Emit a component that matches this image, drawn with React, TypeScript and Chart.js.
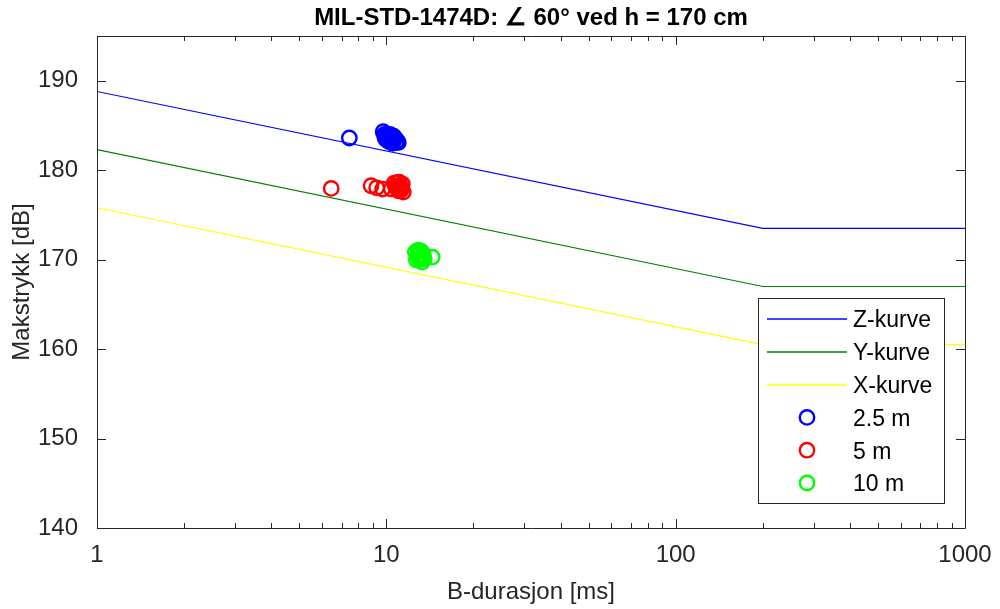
import { useEffect, useRef } from 'react';
import { Chart, registerables } from 'chart.js';

Chart.register(...registerables);

// Limit curves (MIL-STD-1474D), vertices at B-duration in ms
const CURVE_DURATION_MS = [1, 200, 1000];
const Z_CURVE_DB = [188.8, 173.5, 173.5];
const Y_CURVE_DB = [182.3, 167.0, 167.0];
const X_CURVE_DB = [175.8, 160.5, 160.5];

// Measured peaks, 2.5 m
const M25_DURATION_MS = [7.45, 9.75, 9.85, 10.0, 10.1, 10.3, 10.4, 10.6, 10.8, 11.0, 10.2, 9.9, 10.7, 10.0, 10.5, 10.3, 10.6, 10.9];
const M25_PEAK_DB = [183.6, 184.3, 184.0, 183.9, 183.6, 183.7, 183.4, 183.3, 183.1, 183.1, 183.2, 183.6, 183.6, 183.4, 183.0, 184.0, 183.8, 183.3];

// Measured peaks, 5 m
const M5_DURATION_MS = [6.45, 8.86, 9.26, 9.71, 10.66, 11.08, 11.36, 10.91, 11.26, 11.45, 10.74, 10.4, 10.9, 11.2, 11.0, 11.3];
const M5_PEAK_DB = [177.96, 178.26, 178.03, 177.89, 178.56, 178.67, 178.45, 178.0, 177.77, 177.55, 178.22, 177.9, 178.6, 178.2, 177.7, 178.0];

// Measured peaks, 10 m
const M10_DURATION_MS = [12.59, 12.89, 13.2, 13.42, 12.79, 13.1, 13.52, 12.69, 13.3, 14.41, 13.0, 12.9, 13.3, 13.0];
const M10_PEAK_DB = [170.84, 171.06, 170.95, 170.61, 170.39, 170.17, 170.06, 169.95, 169.72, 170.28, 170.6, 171.0, 170.2, 170.0];

const X_TICKS = [1, 10, 100, 1000];
const X_MINOR_TICKS = [2, 3, 4, 5, 6, 7, 8, 9, 20, 30, 40, 50, 60, 70, 80, 90, 200, 300, 400, 500, 600, 700, 800, 900];
const Y_TICKS = [140, 150, 160, 170, 180, 190];

const TITLE = 'MIL-STD-1474D: \u2220 60\u00b0 ved h = 170 cm';
const X_LABEL = 'B-durasjon [ms]';
const Y_LABEL = 'Makstrykk [dB]';

const AXIS_COLOR = '#262626';
const FONT_FAMILY = '"Liberation Sans", Arial, Helvetica, sans-serif';

const toPoints = (xs: number[], ys: number[]) => xs.map((x, i) => ({ x, y: ys[i] }));

// Box, inward ticks, title and legend, drawn the way MATLAB axes look
const framePlugin = {
  id: 'matlabFrame',
  afterDatasetsDraw(chart: any) {
    const { ctx, chartArea: a, scales } = chart;
    const xs = scales.x;
    const ys = scales.y;
    ctx.save();
    ctx.strokeStyle = AXIS_COLOR;
    ctx.lineWidth = 1;
    ctx.beginPath();
    ctx.rect(Math.round(a.left) + 0.5, Math.round(a.top) + 0.5, Math.round(a.right - a.left), Math.round(a.bottom - a.top));
    ctx.stroke();

    const major = 9;
    const minor = 5;
    ctx.beginPath();
    const xTick = (v: number, len: number) => {
      const px = Math.round(xs.getPixelForValue(v)) + 0.5;
      ctx.moveTo(px, a.bottom);
      ctx.lineTo(px, a.bottom - len);
      ctx.moveTo(px, a.top);
      ctx.lineTo(px, a.top + len);
    };
    X_TICKS.forEach((v) => xTick(v, major));
    X_MINOR_TICKS.forEach((v) => xTick(v, minor));
    Y_TICKS.forEach((v) => {
      const py = Math.round(ys.getPixelForValue(v)) + 0.5;
      ctx.moveTo(a.left, py);
      ctx.lineTo(a.left + major, py);
      ctx.moveTo(a.right, py);
      ctx.lineTo(a.right - major, py);
    });
    ctx.stroke();
    ctx.restore();
  },
  afterDraw(chart: any) {
    const { ctx, chartArea: a } = chart;
    ctx.save();
    // title
    ctx.fillStyle = '#000000';
    ctx.font = `bold 24px ${FONT_FAMILY}`;
    ctx.textAlign = 'center';
    ctx.textBaseline = 'middle';
    ctx.fillText(TITLE, (a.left + a.right) / 2, 18);

    // legend
    const box = { left: 758, top: 298, right: 944, bottom: 503 };
    ctx.fillStyle = '#ffffff';
    ctx.fillRect(box.left, box.top, box.right - box.left, box.bottom - box.top);
    ctx.strokeStyle = AXIS_COLOR;
    ctx.lineWidth = 1;
    ctx.strokeRect(box.left + 0.5, box.top + 0.5, box.right - box.left, box.bottom - box.top);

    const rowY0 = 319;
    const rowGap = 32.8;
    ctx.font = `23px ${FONT_FAMILY}`;
    ctx.textAlign = 'left';
    chart.data.datasets.forEach((ds: any, i: number) => {
      const y = rowY0 + i * rowGap;
      if (ds.showLine) {
        ctx.strokeStyle = ds.borderColor;
        ctx.lineWidth = 1.3;
        ctx.beginPath();
        ctx.moveTo(767, Math.round(y));
        ctx.lineTo(847, Math.round(y));
        ctx.stroke();
      } else {
        ctx.strokeStyle = ds.pointBorderColor;
        ctx.lineWidth = ds.pointBorderWidth;
        ctx.beginPath();
        ctx.arc(807, y, ds.pointRadius, 0, Math.PI * 2);
        ctx.stroke();
      }
      ctx.fillStyle = '#000000';
      ctx.fillText(ds.label, 853, y + 2);
    });
    ctx.restore();
  },
};

const lineSet = (label: string, ys: number[], color: string) => ({
  label,
  data: toPoints(CURVE_DURATION_MS, ys),
  showLine: true,
  borderColor: color,
  borderWidth: 1.1,
  pointRadius: 0,
  fill: false,
});

const markerSet = (label: string, xs: number[], ys: number[], color: string) => ({
  label,
  data: toPoints(xs, ys),
  showLine: false,
  pointStyle: 'circle',
  pointRadius: 7.2,
  pointBorderWidth: 2.4,
  pointBorderColor: color,
  pointBackgroundColor: 'rgba(0,0,0,0)',
  borderColor: color,
  backgroundColor: 'rgba(0,0,0,0)',
});

export default function App() {
  const canvasRef = useRef<HTMLCanvasElement | null>(null);

  useEffect(() => {
    if (!canvasRef.current) return;
    const chart = new Chart(canvasRef.current, {
      type: 'scatter',
      data: {
        datasets: [
          lineSet('Z-kurve', Z_CURVE_DB, '#0000ff'),
          lineSet('Y-kurve', Y_CURVE_DB, '#008000'),
          lineSet('X-kurve', X_CURVE_DB, '#ffff00'),
          markerSet('2.5 m', M25_DURATION_MS, M25_PEAK_DB, '#0000ff'),
          markerSet('5 m', M5_DURATION_MS, M5_PEAK_DB, '#ff0000'),
          markerSet('10 m', M10_DURATION_MS, M10_PEAK_DB, '#00ff00'),
        ] as any,
      },
      options: {
        animation: false,
        responsive: false,
        devicePixelRatio: 1,
        layout: { padding: { left: 0, right: 35, top: 36, bottom: 0 } },
        plugins: {
          legend: { display: false },
          tooltip: { enabled: false },
          title: { display: false },
        },
        scales: {
          x: {
            type: 'logarithmic',
            min: 1,
            max: 1000,
            grid: { display: false },
            border: { display: false },
            afterBuildTicks: (s: any) => {
              s.ticks = X_TICKS.map((value) => ({ value }));
            },
            afterFit: (s: any) => {
              s.height = 81;
            },
            ticks: {
              autoSkip: false,
              maxRotation: 0,
              padding: 5,
              color: AXIS_COLOR,
              font: { family: FONT_FAMILY, size: 24 },
              callback: (v: any) => String(v),
            },
            title: {
              display: true,
              text: X_LABEL,
              color: AXIS_COLOR,
              font: { family: FONT_FAMILY, size: 24 },
              padding: { top: 0, bottom: 2 },
            },
          },
          y: {
            type: 'linear',
            min: 140,
            max: 195,
            grid: { display: false },
            border: { display: false },
            afterBuildTicks: (s: any) => {
              s.ticks = Y_TICKS.map((value) => ({ value }));
            },
            afterFit: (s: any) => {
              s.width = 97;
            },
            ticks: {
              padding: 11,
              color: AXIS_COLOR,
              font: { family: FONT_FAMILY, size: 24 },
            },
            title: {
              display: true,
              text: Y_LABEL,
              color: AXIS_COLOR,
              font: { family: FONT_FAMILY, size: 24 },
              padding: { top: 8, bottom: 0 },
            },
          },
        },
      } as any,
      plugins: [framePlugin],
    });
    return () => chart.destroy();
  }, []);

  return (
    <div style={{ position: 'fixed', left: 0, top: 0, width: 1000, height: 609, background: '#ffffff' }}>
      <canvas ref={canvasRef} width={1000} height={609} style={{ display: 'block' }} />
    </div>
  );
}
